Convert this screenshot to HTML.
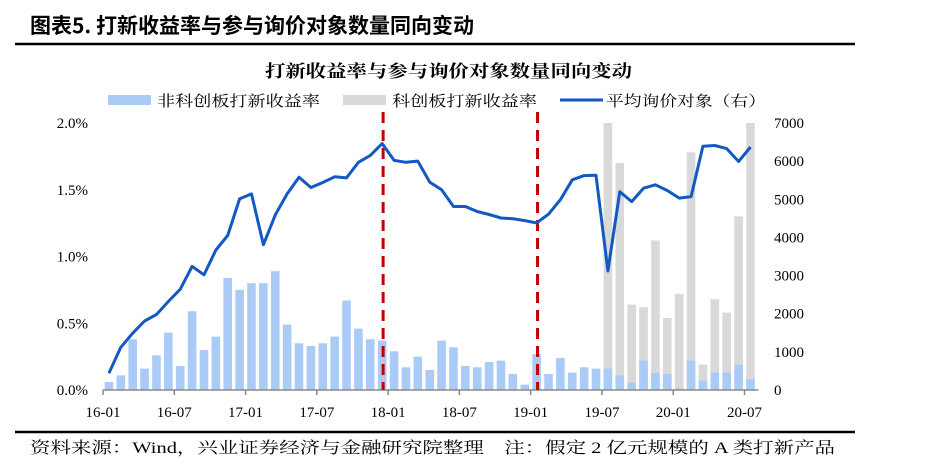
<!DOCTYPE html>
<html><head><meta charset="utf-8">
<style>
body{margin:0;background:#fff;}
svg text{font-family:"Liberation Serif","Noto Serif CJK SC","Noto Sans CJK SC",serif;}
</style></head>
<body>
<svg width="941" height="471" viewBox="0 0 941 471" xmlns="http://www.w3.org/2000/svg">
<text x="30" y="33" font-size="21" font-weight="bold" style="font-family:'Noto Sans CJK SC',sans-serif">图表5. 打新收益率与参与询价对象数量同向变动</text>
<line x1="15" y1="44" x2="855" y2="44" stroke="#000" stroke-width="2.5"/>
<text x="265" y="77" font-size="17" font-weight="bold" textLength="367" lengthAdjust="spacingAndGlyphs" style="font-family:'Liberation Serif','Noto Serif CJK SC',serif">打新收益率与参与询价对象数量同向变动</text>
<g font-size="15">
<rect x="108" y="95" width="43" height="10" fill="#abcbf7"/>
<text x="157" y="106" textLength="163" lengthAdjust="spacingAndGlyphs">非科创板打新收益率</text>
<rect x="343" y="95" width="43" height="10" fill="#d9d9d9"/>
<text x="392" y="106" textLength="145" lengthAdjust="spacingAndGlyphs">科创板打新收益率</text>
<line x1="560" y1="100" x2="603" y2="100" stroke="#1259c3" stroke-width="3"/>
<text x="606" y="106" textLength="160" lengthAdjust="spacingAndGlyphs">平均询价对象（右）</text>
</g>
<g id="plot"></g>
<line x1="15" y1="432" x2="855" y2="432" stroke="#000" stroke-width="2.5"/>
<text x="30" y="453" font-size="16" textLength="805" lengthAdjust="spacingAndGlyphs">资料来源：Wind，兴业证券经济与金融研究院整理　注：假定 2 亿元规模的 A 类打新产品</text>
</svg>
<script>
const months=55;
const xTickLabels=["16-01","16-07","17-01","17-07","18-01","18-07","19-01","19-07","20-01","20-07"];
const leftTicks=["0.0%","0.5%","1.0%","1.5%","2.0%"];
const rightTicks=[0,1000,2000,3000,4000,5000,6000,7000];
const nonStar=[0.06,0.11,0.38,0.16,0.26,0.43,0.18,0.59,0.30,0.40,0.84,0.75,0.80,0.80,0.89,0.49,0.35,0.33,0.35,0.40,0.67,0.46,0.38,0.37,
0.29,0.17,0.25,0.15,0.37,0.32,0.18,0.17,0.21,0.22,0.12,0.04,
0.27,0.12,0.24,0.13,0.17,0.16,0.16,0.11,0.055,0.22,0.13,0.12,0.01,0.22,0.07,0.13,0.13,0.19,0.08];
const star=[null,null,null,null,null,null,null,null,null,null,null,null,null,null,null,null,null,null,null,null,null,null,null,null,
null,null,null,null,null,null,null,null,null,null,null,null,
null,null,null,null,null,null,2.0,1.70,0.64,0.62,1.12,0.54,0.72,1.78,0.19,0.68,0.58,1.30,2.0];
const avgInquiry=[437,1120,1490,1810,1980,2320,2640,3240,3020,3670,4050,5010,5140,3810,4590,5140,5580,5310,5440,5590,5560,5970,6150,6460,
6020,5970,6000,5450,5250,4810,4810,4680,4600,4510,4490,4440,
4380,4610,4990,5510,5620,5630,3120,5200,4940,5290,5380,5230,5030,5070,6390,6410,6330,5990,6370];
const dividerMonths=[24,37];

const NS="http://www.w3.org/2000/svg";
const plot=document.getElementById('plot');
const X0=103,step=11.88,Y0=390,YT=123;
const xb=i=>X0+i*step;
const xc=i=>X0+(i+0.5)*step;
const yl=v=>Y0-(v/2.0)*(Y0-YT);
const yr=v=>Y0-(v/7000)*(Y0-YT);
function mk(tag,attrs){const e=document.createElementNS(NS,tag);for(const k in attrs)e.setAttribute(k,attrs[k]);plot.appendChild(e);return e;}
star.forEach((v,i)=>{if(v==null)return;const r=mk('rect',{x:xc(i)-4.3,y:yl(v),width:8.6,height:Y0-yl(v),fill:'#d9d9d9'});

});
nonStar.forEach((v,i)=>{const r=mk('rect',{x:xc(i)-4.3,y:yl(v),width:8.6,height:Y0-yl(v),fill:'#abcbf7'});

});
const ax=mk('line',{x1:X0,y1:Y0,x2:X0+months*step+2,y2:Y0,stroke:'#888','stroke-width':1.5});


xTickLabels.forEach((t,k)=>{const x=xb(k*6);
const tk=mk('line',{x1:x,y1:Y0,x2:x,y2:Y0+5,stroke:'#888','stroke-width':1.5});


const tx=mk('text',{x:x,y:Y0+27,'font-size':15,'text-anchor':'middle'});tx.textContent=t;

});
leftTicks.forEach((t,k)=>{const tx=mk('text',{x:88,y:yl(k*0.5)+5,'font-size':15,'text-anchor':'end'});tx.textContent=t;

});
rightTicks.forEach(v=>{const tx=mk('text',{x:774,y:yr(v)+5,'font-size':15});tx.textContent=v;

});
dividerMonths.forEach(m=>{const l=mk('line',{x1:xb(m)-5,y1:112,x2:xb(m)-5,y2:Y0,stroke:'#c00000','stroke-width':3,'stroke-dasharray':'11,7'});

});
const pts=avgInquiry.map((v,i)=>xc(i).toFixed(1)+','+yr(v).toFixed(1)).join(' ');
const pl=mk('polyline',{points:pts,fill:'none',stroke:'#1259c3','stroke-width':3,'stroke-linejoin':'round'});


</script>
</body></html>
